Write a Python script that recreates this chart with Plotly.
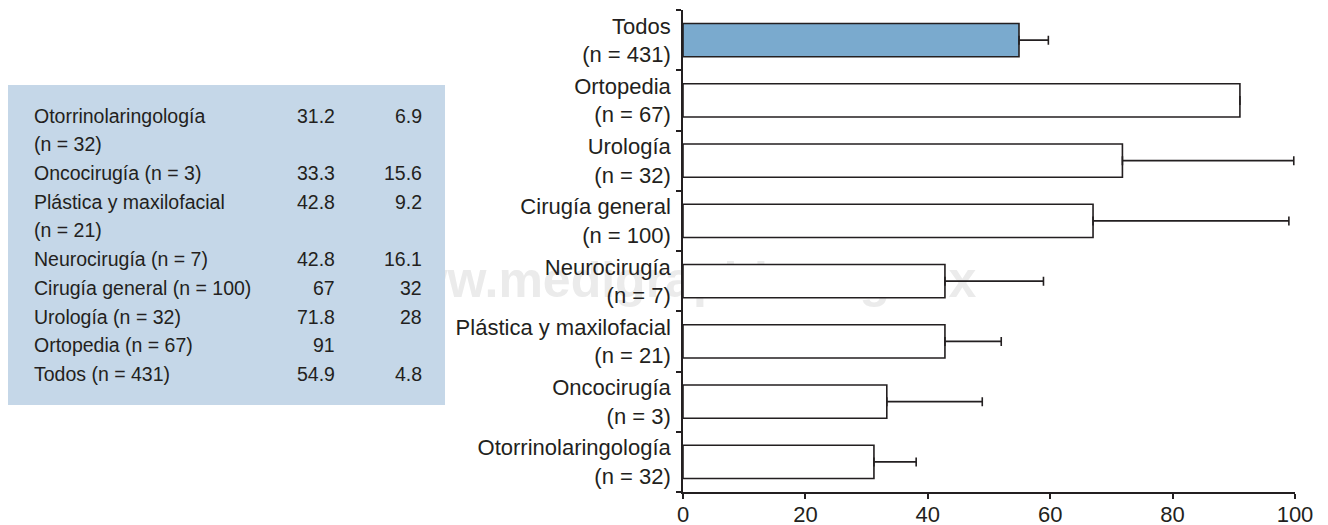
import plotly.graph_objects as go

# ---------------- data ----------------
categories = [
    "Otorrinolaringología<br>(n = 32)",
    "Oncocirugía<br>(n = 3)",
    "Plástica y maxilofacial<br>(n = 21)",
    "Neurocirugía<br>(n = 7)",
    "Cirugía general<br>(n = 100)",
    "Urología<br>(n = 32)",
    "Ortopedia<br>(n = 67)",
    "Todos<br>(n = 431)",
]
means = [31.2, 33.3, 42.8, 42.8, 67, 71.8, 91, 54.9]
errors = [6.9, 15.6, 9.2, 16.1, 32, 28, None, 4.8]
table_rows = [
    ["Otorrinolaringología", "(n = 32)"],
    ["Oncocirugía (n = 3)"],
    ["Plástica y maxilofacial", "(n = 21)"],
    ["Neurocirugía (n = 7)"],
    ["Cirugía general (n = 100)"],
    ["Urología (n = 32)"],
    ["Ortopedia (n = 67)"],
    ["Todos (n = 431)"],
]
x_ticks = [0, 20, 40, 60, 80, 100]
watermark = "www.medigraphic.org.mx"

# ---------------- style ----------------
OFF = 8  # page body margin of the html page
W, H = 1328 - OFF, 525 - OFF
# plot area in page pixels: x 683..1295, y 10..492
ML = 683 - OFF
MR = W - (1295 - OFF)
MT = 10 - OFF
MB = H - (492 - OFF)
PW, PH = W - ML - MR, H - MT - MB
INK = "#231f20"
HIGHLIGHT = "#7aaace"
TABLE_BG = "#c5d7e8"
FONT = "Liberation Sans, Arial, Helvetica, sans-serif"


def px(xp):
    """page x pixel -> paper coordinate"""
    return (xp - OFF - ML) / PW


def py(yp):
    """page y pixel -> paper coordinate"""
    return (H - MB - (yp - OFF)) / PH


bar_colors = [HIGHLIGHT if c.startswith("Todos") else "white" for c in categories]
err_plus = [e if e is not None else None for e in errors]
err_minus = [0 if e is not None else None for e in errors]

fig = go.Figure()
fig.add_trace(go.Bar(
    x=means,
    y=categories,
    orientation="h",
    width=0.55,
    marker=dict(color=bar_colors, line=dict(color=INK, width=1.6)),
    error_x=dict(type="data", symmetric=False, array=err_plus, arrayminus=err_minus,
                 color=INK, thickness=1.6, width=4.5),
    hoverinfo="x+y",
    showlegend=False,
))

shapes = []
# watermark (behind everything)
shapes.append(dict(
    type="rect", xref="paper", yref="paper",
    x0=px(369), x1=px(977), y0=py(305), y1=py(245),
    line=dict(width=0), fillcolor="rgba(0,0,0,0)", layer="below",
    label=dict(text="<b>" + watermark + "</b>", textposition="middle center",
               font=dict(family=FONT, size=50, color="#ebebeb")),
))
# table panel
shapes.append(dict(
    type="rect", xref="paper", yref="paper",
    x0=px(8), x1=px(445), y0=py(405), y1=py(85),
    line=dict(width=0), fillcolor=TABLE_BG, layer="below",
))

annotations = []
TFS = 19.5
y_base = 122.7
step = 28.7
line_i = 0
for row, m, e in zip(table_rows, means, errors):
    first_line = line_i
    for txt in row:
        yb = y_base + step * line_i
        annotations.append(dict(
            xref="paper", yref="paper", x=px(32), y=py(yb - 0.36 * TFS),
            xanchor="left", yanchor="middle", text=txt, showarrow=False,
            font=dict(family=FONT, size=TFS, color=INK),
        ))
        line_i += 1
    yb = y_base + step * first_line
    annotations.append(dict(
        xref="paper", yref="paper", x=px(337), y=py(yb - 0.36 * TFS),
        xanchor="right", yanchor="middle", text=f"{m:g}", showarrow=False,
        font=dict(family=FONT, size=TFS, color=INK),
    ))
    if e is not None:
        annotations.append(dict(
            xref="paper", yref="paper", x=px(424), y=py(yb - 0.36 * TFS),
            xanchor="right", yanchor="middle", text=f"{e:g}", showarrow=False,
            font=dict(family=FONT, size=TFS, color=INK),
        ))

fig.update_layout(
    width=W, height=H,
    margin=dict(l=ML, r=MR, t=MT, b=MB),
    paper_bgcolor="white",
    plot_bgcolor="rgba(0,0,0,0)",
    font=dict(family=FONT, color=INK, size=22),
    shapes=shapes,
    annotations=annotations,
    xaxis=dict(
        range=[0, 100], tickvals=x_ticks, ticktext=[str(t) for t in x_ticks],
        showline=True, linecolor=INK, linewidth=1.6,
        ticks="outside", ticklen=5, tickwidth=1.6, tickcolor=INK,
        ticklabelstandoff=-3,
        showgrid=False, zeroline=False, automargin=False,
        tickfont=dict(family=FONT, size=22, color=INK),
    ),
    yaxis=dict(
        type="category", categoryorder="array", categoryarray=categories,
        range=[-0.5, len(categories) - 0.5],
        showline=True, linecolor=INK, linewidth=1.6,
        ticks="outside", tickson="boundaries", ticklen=5, tickwidth=1.6, tickcolor=INK,
        ticklabelstandoff=6,
        showgrid=False, zeroline=False, automargin=False,
        tickfont=dict(family=FONT, size=22, color=INK),
    ),
)

fig.write_html("out.html")
